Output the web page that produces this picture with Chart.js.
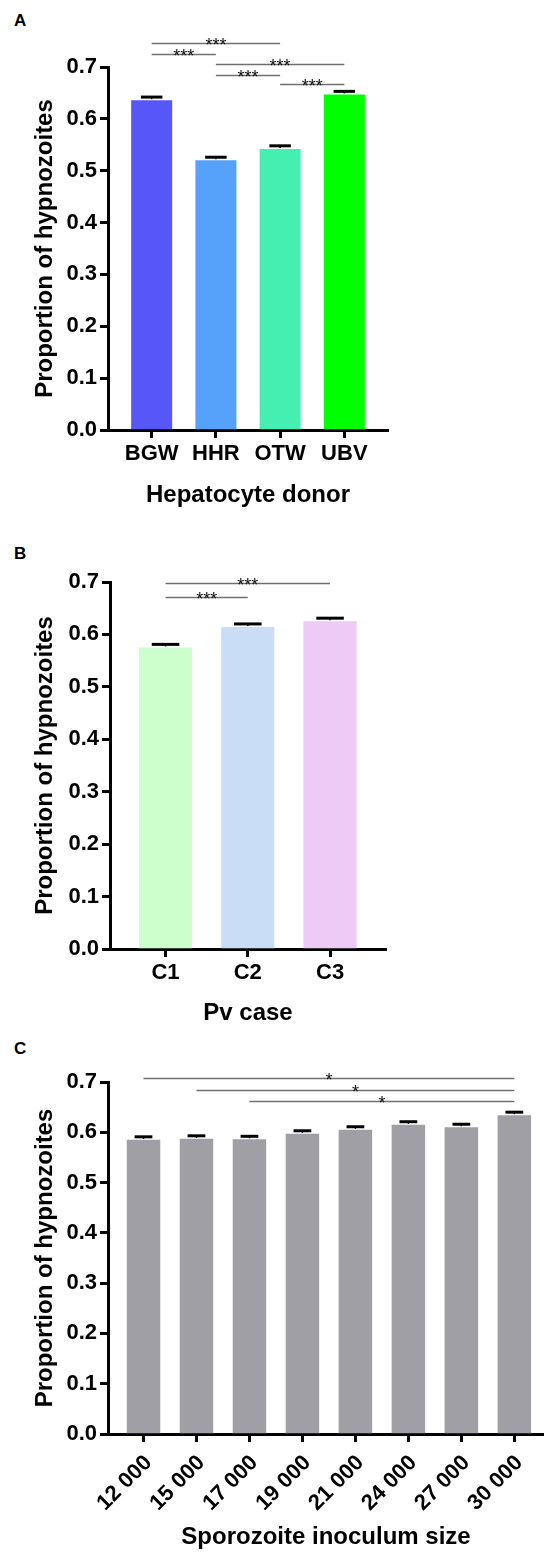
<!DOCTYPE html>
<html>
<head>
<meta charset="utf-8">
<script src="https://cdn.jsdelivr.net/npm/chart.js@4.4.0/dist/chart.umd.min.js"></script>
<style>
  html, body { margin: 0; padding: 0; background: #fff; width: 544px; height: 1553px; overflow: hidden; }
  .panel { position: absolute; left: 0; width: 544px; }
  .tag { position: absolute; left: 14px; font: bold 17px "Liberation Sans", Arial, sans-serif; line-height: 1; color: #000; }
</style>
</head>
<body>
<div class="tag" style="top:12px">A</div>
<div class="tag" style="top:545px">B</div>
<div class="tag" style="top:1040px">C</div>

<div class="panel" style="top:0;height:520px"><canvas id="chartA"></canvas></div>
<div class="panel" style="top:525px;height:505px"><canvas id="chartB"></canvas></div>
<div class="panel" style="top:1040px;height:513px"><canvas id="chartC"></canvas></div>

<script>
// panel A - hepatocyte donor
const donorLabels = ['BGW', 'HHR', 'OTW', 'UBV'];
const donorValues = [0.638, 0.522, 0.544, 0.649];
const donorErrors = [0.004, 0.004, 0.004, 0.004];
const donorColors = ['#5757f8', '#56a2fa', '#44efb1', '#00ff00'];
const donorSig = [[0, 2, 0.747, '***'], [0, 1, 0.726, '***'], [1, 3, 0.706, '***'], [1, 2, 0.685, '***'], [2, 3, 0.667, '***']];

// panel B - Pv case
const caseLabels = ['C1', 'C2', 'C3'];
const caseValues = [0.577, 0.616, 0.627];
const caseErrors = [0.004, 0.004, 0.004];
const caseColors = ['#ccffcc', '#c9ddf7', '#eecbf6'];
const caseSig = [[0, 2, 0.698, '***'], [0, 1, 0.671, '***']];

// panel C - sporozoite inoculum
const inoculumLabels = ['12 000', '15 000', '17 000', '19 000', '21 000', '24 000', '27 000', '30 000'];
const inoculumValues = [0.587, 0.589, 0.588, 0.599, 0.607, 0.617, 0.612, 0.636];
const inoculumErrors = [0.004, 0.004, 0.004, 0.004, 0.004, 0.004, 0.004, 0.004];
const inoculumColor = '#a09fa5';
const inoculumSig = [[0, 7, 0.708, '*'], [1, 7, 0.684, '*'], [2, 7, 0.6625, '*']];

const yTicks = [0, 0.1, 0.2, 0.3, 0.4, 0.5, 0.6, 0.7];

const FONT = '"Liberation Sans", Arial, sans-serif';

const errorBars = {
  id: 'errorBars',
  afterDatasetsDraw(chart) {
    const ctx = chart.ctx;
    const ds = chart.data.datasets[0];
    const meta = chart.getDatasetMeta(0);
    const y = chart.scales.y;
    ctx.save();
    ctx.strokeStyle = '#000';
    meta.data.forEach((bar, i) => {
      const top = y.getPixelForValue(ds.data[i].y + ds.errors[i]);
      const half = bar.width / 4;
      ctx.lineWidth = 1.5;
      ctx.beginPath();
      ctx.moveTo(bar.x, bar.y);
      ctx.lineTo(bar.x, top);
      ctx.stroke();
      ctx.lineWidth = 3;
      ctx.beginPath();
      ctx.moveTo(bar.x - half, top);
      ctx.lineTo(bar.x + half, top);
      ctx.stroke();
    });
    ctx.restore();
  }
};

const sigLines = {
  id: 'sigLines',
  afterDraw(chart, args, options) {
    const ctx = chart.ctx;
    const x = chart.scales.x;
    const y = chart.scales.y;
    ctx.save();
    (options.list || []).forEach((s) => {
      const x1 = x.getPixelForValue(s[0]);
      const x2 = x.getPixelForValue(s[1]);
      const yy = Math.round(y.getPixelForValue(s[2])) + 0.5;
      ctx.strokeStyle = '#707070';
      ctx.lineWidth = 1.5;
      ctx.beginPath();
      ctx.moveTo(x1, yy);
      ctx.lineTo(x2, yy);
      ctx.stroke();
      ctx.fillStyle = '#111';
      ctx.font = '18px ' + FONT;
      ctx.textAlign = 'center';
      ctx.textBaseline = 'alphabetic';
      ctx.fillText(s[3], (x1 + x2) / 2, yy + 7);
    });
    ctx.restore();
  }
};

function makePanel(id, labels, values, errors, colors, sig, o) {
  const canvas = document.getElementById(id);
  return new Chart(canvas, {
    type: 'bar',
    data: {
      datasets: [{
        data: values.map((v, i) => ({ x: i, y: v })),
        errors: errors,
        backgroundColor: colors,
        borderColor: 'rgba(255,255,255,0.35)',
        borderWidth: 1,
        barPercentage: 0.67,
        categoryPercentage: 1
      }]
    },
    options: {
      responsive: true,
      maintainAspectRatio: false,
      animation: false,
      layout: { padding: { top: o.top, right: o.right, left: 0, bottom: 0 } },
      plugins: {
        legend: { display: false },
        tooltip: { enabled: false },
        sigLines: { list: sig }
      },
      scales: {
        x: {
          type: 'linear',
          offset: false,
          min: o.xmin,
          max: o.xmax,
          afterFit: (scale) => { scale.height = o.xHeight; },
          border: { display: true, color: '#000', width: 3 },
          grid: { display: true, offset: false, drawOnChartArea: false, drawTicks: true, tickLength: 8, tickWidth: 3, tickColor: '#000', color: '#000' },
          ticks: {
            stepSize: 1,
            includeBounds: false,
            autoSkip: false,
            maxRotation: o.rot,
            minRotation: o.rot,
            padding: o.tickPad,
            labelOffset: o.labelShift,
            color: '#000',
            font: { family: FONT, size: 22, weight: 'bold' },
            callback: (v) => (Number.isInteger(v) && labels[v] !== undefined ? labels[v] : '')
          },
          title: {
            display: true,
            text: o.xTitle,
            color: '#000',
            font: { family: FONT, size: 24, weight: 'bold' },
            padding: { top: 0, bottom: o.titlePad }
          }
        },
        y: {
          min: yTicks[0],
          max: yTicks[yTicks.length - 1],
          afterFit: (scale) => { scale.width = o.yWidth; },
          afterBuildTicks: (scale) => { scale.ticks = yTicks.map((v) => ({ value: v })); },
          border: { display: true, color: '#000', width: 3 },
          grid: { display: true, drawOnChartArea: false, drawTicks: true, tickLength: 8, tickWidth: 3, tickColor: '#000', color: '#000' },
          ticks: {
            padding: 3,
            color: '#000',
            font: { family: FONT, size: 22, weight: 'bold' },
            callback: (v) => Number(v).toFixed(1)
          },
          title: {
            display: true,
            text: 'Proportion of hypnozoites',
            color: '#000',
            font: { family: FONT, size: 24, weight: 'bold' },
            padding: { top: 31, bottom: 0 }
          }
        }
      }
    },
    plugins: [errorBars, sigLines]
  });
}

document.addEventListener('DOMContentLoaded', () => {
  makePanel('chartA', donorLabels, donorValues, donorErrors, donorColors, donorSig,
    { top: 67, right: 156, xmin: -0.68, xmax: 3.68, xHeight: 90, yWidth: 108, rot: 0, tickPad: 3, labelShift: 0, titlePad: 10, xTitle: 'Hepatocyte donor' });
  makePanel('chartB', caseLabels, caseValues, caseErrors, caseColors, caseSig,
    { top: 57, right: 158, xmin: -0.675, xmax: 2.68, xHeight: 81, yWidth: 110, rot: 0, tickPad: 3, labelShift: 0, titlePad: 2, xTitle: 'Pv case' });
  makePanel('chartC', inoculumLabels, inoculumValues, inoculumErrors, inoculumColor, inoculumSig,
    { top: 42, right: 0, xmin: -0.67, xmax: 7.56, xHeight: 119, yWidth: 108, rot: 45, tickPad: 8, labelShift: 5, titlePad: 1, xTitle: 'Sporozoite inoculum size' });
});
</script>
</body>
</html>
